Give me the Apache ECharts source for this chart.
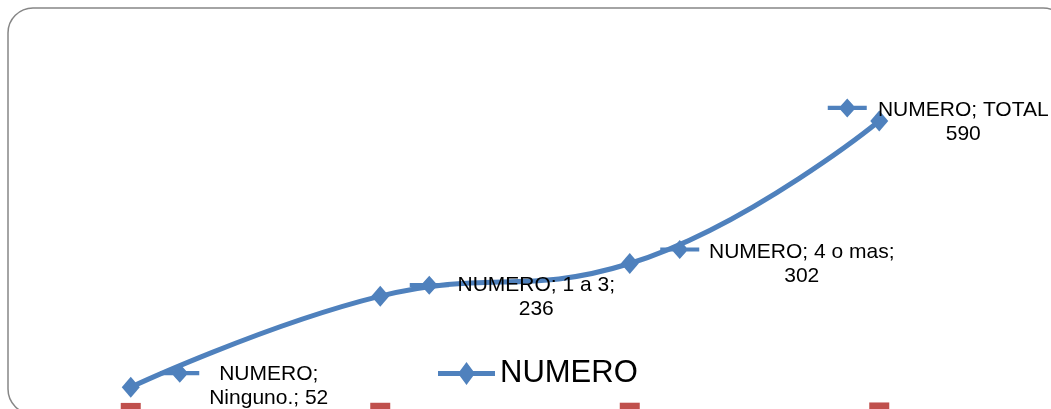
<!DOCTYPE html>
<html>
<head>
<meta charset="utf-8">
<script src="https://cdn.jsdelivr.net/npm/echarts@6/dist/echarts.min.js"></script>
<style>
  html, body { margin: 0; padding: 0; background: #fff; }
  #chart { width: 1051px; height: 409px; }
</style>
</head>
<body>
<div id="chart"></div>
<script>
  // datos
  const categorias = ['Ninguno.', '1 a 3', '4 o mas', 'TOTAL'];
  const numero = [52, 236, 302, 590];
  const porcentaje = [0.09, 0.4, 0.51, 1];
  // salto de linea: true = despues del nombre, false = despues de "NUMERO;"
  const saltoTrasNombre = [false, true, true, true];

  // posicion de las etiquetas (px, relativo al punto)
  const offsetEtiqueta = [[138, -1], [156, 1], [172, 1], [84, 1]];
  const offsetIcono = [[49, -14], [49, -11], [50, -14], [-32, -13]];

  const azul = '#4F81BD';
  const rojo = '#C0504D';
  const fuente = 'Arial, "Liberation Sans", sans-serif';
  const icono = 'path://M0,8h39v4h-39z M19.5,1 L28,10 L19.5,19 L11,10z';
  const iconoLeyenda = 'path://M0,9h57v5h-57z M28.5,0 L37,11.5 L28.5,23 L20,11.5z';

  const myChart = echarts.init(document.getElementById('chart'));

  const option = {
    animation: false,
    graphic: [{
      type: 'rect',
      shape: { x: 8, y: 8, width: 1060, height: 406, r: 25 },
      style: { fill: 'none', stroke: '#868686', lineWidth: 1.5 },
      z: -1
    }],
    legend: {
      data: [{ name: 'NUMERO', icon: iconoLeyenda }],
      left: 433,
      top: 353,
      itemWidth: 57,
      itemHeight: 23,
      itemGap: 2,
      textStyle: { fontSize: 31, color: '#000', fontFamily: fuente }
    },
    // el cero del eje queda unos px por debajo del borde inferior
    grid: { left: 6, right: 47, top: 116, bottom: 0 },
    xAxis: {
      type: 'category',
      data: categorias,
      show: false
    },
    yAxis: {
      type: 'value',
      min: 8,
      max: 600,
      show: false
    },
    series: [
      {
        name: 'PORCENTAJE',
        type: 'line',
        data: porcentaje,
        symbol: 'rect',
        symbolSize: 20,
        showAllSymbol: true,
        lineStyle: { width: 0 },
        itemStyle: { color: rojo },
        clip: false
      },
      {
        name: 'NUMERO',
        type: 'line',
        data: numero.map((v, i) => ({
          value: v,
          label: { offset: offsetEtiqueta[i] }
        })),
        smooth: 0.45,
        symbol: 'diamond',
        symbolSize: [18, 21],
        lineStyle: { width: 5, color: azul },
        itemStyle: { color: azul },
        clip: false,
        z: 3,
        label: {
          show: true,
          position: 'inside',
          align: 'center',
          verticalAlign: 'middle',
          color: '#000',
          fontSize: 21,
          lineHeight: 24,
          fontFamily: fuente,
          formatter: function (p) {
            const i = p.dataIndex;
            if (saltoTrasNombre[i]) {
              return 'NUMERO; ' + p.name + (i === 3 ? '' : ';') + '\n' + p.value;
            }
            return 'NUMERO;\n' + p.name + '; ' + p.value;
          }
        }
      },
      {
        name: 'icono',
        type: 'scatter',
        data: numero.map((v, i) => ({
          value: v,
          symbolOffset: offsetIcono[i]
        })),
        symbol: icono,
        symbolSize: [39, 19],
        symbolKeepAspect: false,
        itemStyle: { color: azul, opacity: 1 },
        silent: true,
        z: 4
      }
    ]
  };

  myChart.setOption(option);
</script>
</body>
</html>
